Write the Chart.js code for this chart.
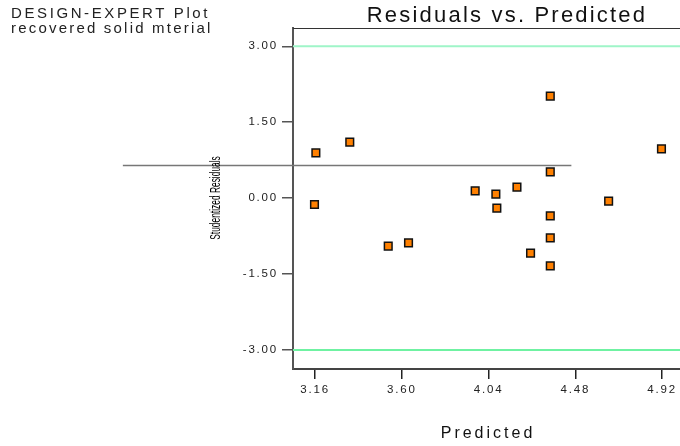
<!DOCTYPE html>
<html>
<head>
<meta charset="utf-8">
<script src="https://cdn.jsdelivr.net/npm/chart.js@4.4.1/dist/chart.umd.min.js"></script>
<style>
  html, body { margin: 0; padding: 0; background: #fff; }
  #wrap { width: 680px; height: 446px; position: relative; }
</style>
</head>
<body>
<div id="wrap"><canvas id="resChart" width="680" height="446"></canvas></div>
<script>
// values
const predicted = [3.164, 3.336, 3.157, 4.353, 4.917, 4.353, 4.184, 3.972, 4.077, 4.082, 4.649, 4.353, 3.634, 3.531, 4.353, 4.253, 4.353];
const residuals = [0.895, 1.107, -0.126, 2.016, 0.974, 0.52, 0.217, 0.144, 0.079, -0.198, -0.059, -0.35, -0.883, -0.947, -0.785, -1.087, -1.338];
const xTicks = [3.16, 3.60, 4.04, 4.48, 4.92];
const yTicks = [-3.00, -1.50, 0.00, 1.50, 3.00];
const xRange = [3.048, 5.011];
const yRange = [-3.375, 3.362];
const limitLines = [3.00, -3.00];
const refLineX = [2.185, 4.46];
const refLineY = 0.644;

const points = predicted.map((p, i) => ({x: p, y: residuals[i]}));

// texts outside the chart area + condensed y title
const textPlugin = {
  id: 'texts',
  beforeDraw(chart) {
    chart.ctx.letterSpacing = '1.8px';
  },
  afterDraw(chart) {
    const c = chart.ctx;
    const area = chart.chartArea;
    c.save();
    c.fillStyle = '#222';
    c.textAlign = 'left';
    c.textBaseline = 'alphabetic';
    c.font = '15px Arial, "Liberation Sans", sans-serif';
    c.letterSpacing = '2.6px';
    c.fillText('DESIGN-EXPERT Plot', 11, 18);
    c.letterSpacing = '2.2px';
    c.fillText('recovered solid mterial', 11, 33);

    c.fillStyle = '#111';
    c.letterSpacing = '2.2px';
    c.font = '22px Arial, "Liberation Sans", sans-serif';
    c.textAlign = 'center';
    c.fillText('Residuals vs. Predicted', 507, 22);

    c.letterSpacing = '3px';
    c.font = '16px Arial, "Liberation Sans", sans-serif';
    c.fillText('Predicted', 488, 438);

    // rotated, narrow y title
    c.letterSpacing = '0px';
    c.translate(216, 198);
    c.rotate(-Math.PI / 2);
    c.scale(0.56, 1);
    c.fillStyle = '#000';
    c.font = '15px Arial, "Liberation Sans", sans-serif';
    c.textBaseline = 'middle';
    c.fillText('Studentized Residuals', 0, 0);
    c.restore();

    // top border of the plot box
    c.save();
    c.strokeStyle = '#333';
    c.lineWidth = 1;
    c.beginPath();
    c.moveTo(area.left, area.top + 0.5);
    c.lineTo(area.right, area.top + 0.5);
    c.stroke();
    c.restore();
  }
};

const ctx = document.getElementById('resChart').getContext('2d');
new Chart(ctx, {
  type: 'scatter',
  data: {
    datasets: [
      {
        label: 'upper',
        type: 'line',
        data: xRange.map(x => ({x: x, y: limitLines[0]})),
        borderColor: '#9ff5c8',
        borderWidth: 2,
        pointRadius: 0
      },
      {
        label: 'lower',
        type: 'line',
        data: xRange.map(x => ({x: x, y: limitLines[1]})),
        borderColor: '#6ff2a2',
        borderWidth: 2,
        pointRadius: 0
      },
      {
        label: 'ref',
        type: 'line',
        data: refLineX.map(x => ({x: x, y: refLineY})),
        borderColor: '#777',
        borderWidth: 1.5,
        pointRadius: 0,
        clip: false
      },
      {
        label: 'Residuals',
        data: points,
        pointStyle: 'rect',
        pointRadius: 5.4,
        pointHoverRadius: 5.4,
        backgroundColor: '#ff8000',
        borderColor: '#111',
        borderWidth: 1.5
      }
    ]
  },
  options: {
    responsive: false,
    animation: false,
    events: [],
    layout: { autoPadding: false, padding: { top: 28, right: 0, left: 0, bottom: 0 } },
    plugins: {
      legend: { display: false },
      tooltip: { enabled: false }
    },
    scales: {
      x: {
        type: 'linear',
        min: xRange[0],
        max: xRange[1],
        afterBuildTicks: s => { s.ticks = xTicks.map(v => ({value: v})); },
        afterFit: s => { s.height = 446 - 369; s.paddingRight = 0; s.paddingLeft = 0; },
        border: { display: true, color: '#444', width: 2 },
        grid: { drawOnChartArea: false, tickLength: 10, color: '#222', lineWidth: 1.5 },
        ticks: {
          color: '#222',
          padding: 4,
          maxRotation: 0,
          font: { family: 'Arial, "Liberation Sans", sans-serif', size: 11.5 },
          callback: v => v.toFixed(2)
        }
      },
      y: {
        type: 'linear',
        min: yRange[0],
        max: yRange[1],
        afterBuildTicks: s => { s.ticks = yTicks.map(v => ({value: v})); },
        afterFit: s => { s.width = 293; s.paddingTop = 0; s.paddingBottom = 0; },
        border: { display: true, color: '#555', width: 2 },
        grid: { drawOnChartArea: false, tickLength: 11, color: '#555', lineWidth: 1.5 },
        ticks: {
          color: '#222',
          padding: 4,
          font: { family: 'Arial, "Liberation Sans", sans-serif', size: 11.5 },
          callback: v => v.toFixed(2)
        }
      }
    }
  },
  plugins: [textPlugin]
});
</script>
</body>
</html>
